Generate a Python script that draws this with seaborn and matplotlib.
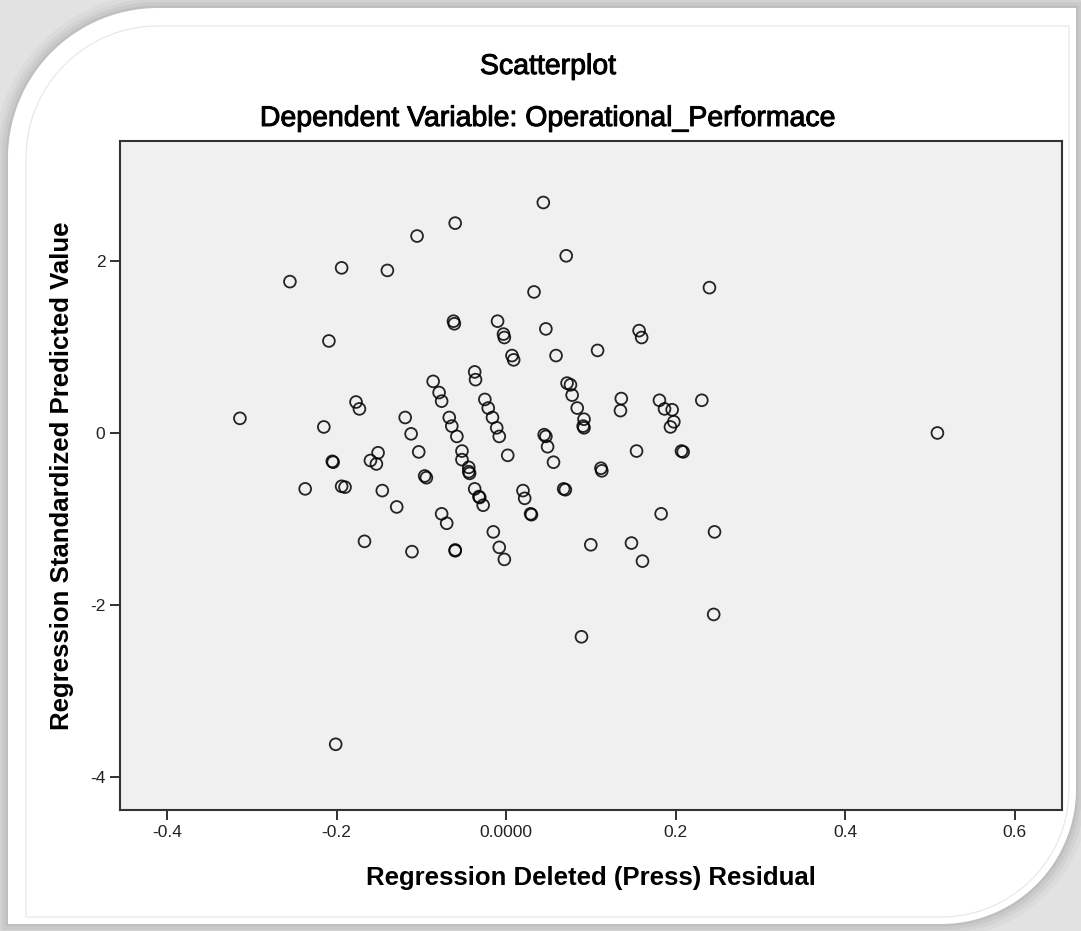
import numpy as np
import pandas as pd
import matplotlib
matplotlib.use("Agg")
import matplotlib.pyplot as plt
import matplotlib.patheffects as pe
import seaborn as sns
from matplotlib.path import Path
from matplotlib.patches import PathPatch

# ---------------- data ----------------
residual = [
    0.044, -0.060, -0.105, -0.194, -0.140, -0.255, 0.071, 0.240, 0.033,
    -0.062, -0.061, -0.010, -0.003, -0.002, 0.047, 0.059, 0.007, 0.009,
    -0.209, -0.037, -0.036, -0.086, -0.079, -0.076, -0.025, -0.021, -0.016,
    -0.011, -0.008, 0.002, 0.045, 0.047, 0.049, 0.056, 0.072, 0.076, 0.078,
    0.084, 0.092, 0.091, 0.092, 0.108, 0.157, 0.160, 0.136, 0.135, 0.181,
    0.187, 0.196, 0.198, 0.194, 0.231, 0.509, 0.154, 0.207, 0.209, 0.112,
    0.113, 0.068, 0.070, 0.020, 0.022, 0.029, 0.030, 0.183, 0.246, 0.100,
    0.148, 0.161, 0.245, 0.089, -0.314, -0.215, -0.177, -0.173, -0.119,
    -0.112, -0.103, -0.067, -0.064, -0.058, -0.052, -0.052, -0.044, -0.044,
    -0.043, -0.205, -0.204, -0.160, -0.151, -0.153, -0.237, -0.194, -0.190,
    -0.146, -0.129, -0.096, -0.094, -0.037, -0.032, -0.031, -0.027, -0.076,
    -0.070, -0.015, -0.008, -0.002, -0.167, -0.111, -0.060, -0.060, -0.201,
]
predicted = [
    2.68, 2.44, 2.29, 1.92, 1.89, 1.76, 2.06, 1.69, 1.64,
    1.30, 1.27, 1.30, 1.15, 1.11, 1.21, 0.90, 0.90, 0.85,
    1.07, 0.71, 0.62, 0.60, 0.47, 0.37, 0.39, 0.29, 0.18,
    0.06, -0.04, -0.26, -0.02, -0.04, -0.16, -0.34, 0.58, 0.56, 0.44,
    0.29, 0.16, 0.08, 0.06, 0.96, 1.19, 1.11, 0.40, 0.26, 0.38,
    0.28, 0.27, 0.13, 0.07, 0.38, 0.00, -0.21, -0.21, -0.22, -0.41,
    -0.44, -0.65, -0.66, -0.67, -0.76, -0.94, -0.95, -0.94, -1.15, -1.30,
    -1.28, -1.49, -2.11, -2.37, 0.17, 0.07, 0.36, 0.28, 0.18,
    -0.01, -0.22, 0.18, 0.08, -0.04, -0.21, -0.31, -0.40, -0.45,
    -0.47, -0.33, -0.34, -0.32, -0.23, -0.36, -0.65, -0.62, -0.63,
    -0.67, -0.86, -0.50, -0.52, -0.65, -0.74, -0.75, -0.84, -0.94,
    -1.05, -1.15, -1.33, -1.47, -1.26, -1.38, -1.36, -1.37, -3.62,
]
x_ticks = [-0.4, -0.2, 0.0, 0.2, 0.4, 0.6]
x_tick_labels = ["-0.4", "-0.2", "0.0000", "0.2", "0.4", "0.6"]
y_ticks = [-4, -2, 0, 2]
y_tick_labels = ["-4", "-2", "0", "2"]
title = "Scatterplot"
subtitle = "Dependent Variable: Operational_Performace"
x_label = "Regression Deleted (Press) Residual"
y_label = "Regression Standardized Predicted Value"

df = pd.DataFrame({"residual": residual, "predicted": predicted})

# ---------------- figure ----------------
W, H = 1081, 931
sns.set_theme(style="white")
plt.rcParams["font.family"] = ["Liberation Sans", "DejaVu Sans"]

fig = plt.figure(figsize=(W / 100, H / 100), dpi=100, facecolor="#e2e2e2")

# decorative picture frame (rounded diagonal corners with soft shadow)
bg = fig.add_axes([0, 0, 1, 1], zorder=0)
bg.set_xlim(0, W)
bg.set_ylim(H, 0)
bg.axis("off")


def frame_path(left, top, right, bottom, r1, r2):
    pts = [(left, bottom), (left, top + r1)]
    t = np.linspace(np.pi, 1.5 * np.pi, 60)
    pts += list(zip(left + r1 + r1 * np.cos(t), top + r1 + r1 * np.sin(t)))
    pts += [(right, top), (right, bottom - r2)]
    t = np.linspace(0, 0.5 * np.pi, 60)
    pts += list(zip(right - r2 + r2 * np.cos(t), bottom - r2 + r2 * np.sin(t)))
    pts.append((left, bottom))
    return Path(pts, closed=True)


outer = frame_path(8, 8, 1076, 924, 150, 135)
for lw, a in [(28, 0.08), (19, 0.10), (12, 0.13), (5, 0.18)]:
    bg.add_patch(PathPatch(outer, facecolor="none", edgecolor="#8f8f8f",
                           lw=lw * 0.72, alpha=a))
bg.add_patch(PathPatch(outer, facecolor="white", edgecolor="none"))
inner = frame_path(26, 26, 1069, 917, 132, 128)
bg.add_patch(PathPatch(inner, facecolor="none", edgecolor="#e6e6e6", lw=0.8))

# main axes
ax = fig.add_axes([120 / W, 1 - 810 / H, 942 / W, 669 / H], zorder=2)
ax.set_facecolor("#f0f0f0")

sns.scatterplot(data=df, x="residual", y="predicted", ax=ax, s=72,
                facecolor="none", edgecolor="black", linewidth=1.3,
                alpha=0.85, legend=False)

ax.set_xlim(-0.4555, 0.656)
ax.set_ylim(-4.384, 3.395)
ax.set_xticks(x_ticks)
ax.set_xticklabels(x_tick_labels)
ax.set_yticks(y_ticks)
ax.set_yticklabels(y_tick_labels)
ax.tick_params(axis="both", which="major", bottom=True, left=True,
               direction="out", length=7.5, width=1.3, color="#222222",
               labelsize=12.5, labelcolor="#222222", pad=3)
for sp in ax.spines.values():
    sp.set_visible(True)
    sp.set_color("#333333")
    sp.set_linewidth(1.5)
ax.grid(False)

ax.set_xlabel(x_label, fontsize=18.5, fontweight="bold", color="black")
ax.xaxis.set_label_coords(0.5, (810 - 878) / 669)
ax.xaxis.label.set_va("center")
ax.set_ylabel(y_label, fontsize=18.5, fontweight="bold", color="black")
ax.yaxis.set_label_coords((62 - 120) / 942, 0.5)
ax.yaxis.label.set_va("center")
ax.yaxis.label.set_ha("center")

heavy = [pe.withStroke(linewidth=0.7, foreground="black")]
fig.text(548 / W, 1 - 67 / H, title, ha="center", va="center",
         fontsize=20.5, color="black", zorder=3, path_effects=heavy)
fig.text(548 / W, 1 - 119 / H, subtitle, ha="center", va="center",
         fontsize=20.5, color="black", zorder=3, path_effects=heavy)

fig.savefig("out.png", dpi=100, facecolor=fig.get_facecolor())
